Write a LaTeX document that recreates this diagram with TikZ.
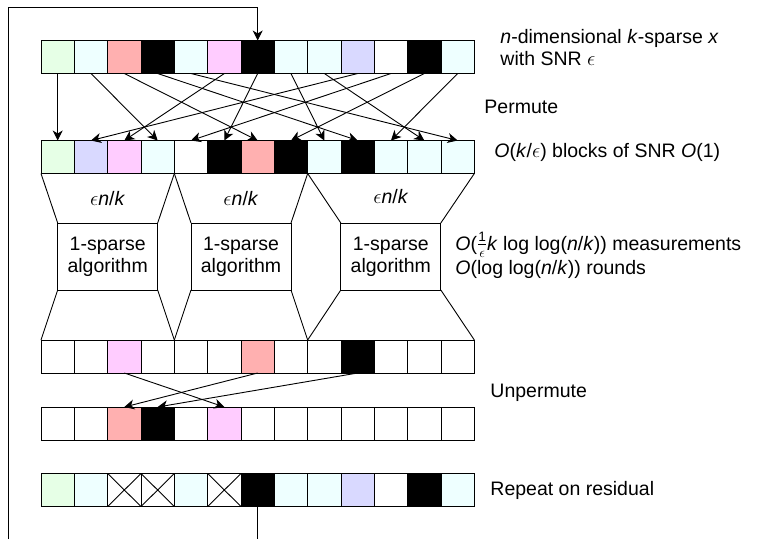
\documentclass[tikz,border=0pt]{standalone}
\usepackage{fontspec}
\usepackage{amsmath}
\setmainfont{Liberation Sans}
\usetikzlibrary{arrows.meta}
\definecolor{cg}{HTML}{E6FFE6}
\definecolor{cc}{HTML}{EEFFFF}
\definecolor{cs}{HTML}{FFB0B0}
\definecolor{cp}{HTML}{FFCCFF}
\definecolor{cl}{HTML}{D9D9FF}
\definecolor{cb}{HTML}{000000}
\definecolor{cw}{HTML}{FFFFFF}
\begin{document}
\begin{tikzpicture}[x=1pt,y=-1pt,line width=0.9pt,
  every node/.style={font=\fontsize{19.5}{22}\selectfont},
  cell/.style={draw,minimum width=33.333pt,minimum height=33pt,inner sep=0pt,outer sep=0pt},
  algbox/.style={draw,fill=white,minimum width=100pt,minimum height=67pt,inner sep=0pt,align=center,outer sep=0pt},
  arr/.style={-{Stealth[length=10pt,width=10pt,inset=3pt]}},
  lbl/.style={anchor=base west,inner sep=0pt,align=left}]
\useasboundingbox (0,0) rectangle (757,539);
% rows of cells
\foreach \c [count=\i from 0] in {cg,cc,cs,cb,cc,cp,cb,cc,cc,cl,cw,cb,cc}
  \node[cell,fill=\c] (a\i) at ({41+33.333*(\i+0.5)},57) {};
\foreach \c [count=\i from 0] in {cg,cl,cp,cc,cw,cb,cs,cb,cc,cb,cc,cc,cc}
  \node[cell,fill=\c] (b\i) at ({41+33.333*(\i+0.5)},157) {};
\foreach \c [count=\i from 0] in {cw,cw,cp,cw,cw,cw,cs,cw,cw,cb,cw,cw,cw}
  \node[cell,fill=\c] (c\i) at ({41+33.333*(\i+0.5)},356.5) {};
\foreach \c [count=\i from 0] in {cw,cw,cs,cb,cw,cp,cw,cw,cw,cw,cw,cw,cw}
  \node[cell,fill=\c] (d\i) at ({41+33.333*(\i+0.5)},423.5) {};
\foreach \c [count=\i from 0] in {cg,cc,cw,cw,cc,cw,cb,cc,cc,cl,cw,cb,cc}
  \node[cell,fill=\c] (e\i) at ({41+33.333*(\i+0.5)},490) {};
\foreach \i in {2,3,5}
  \draw (e\i.north west) -- (e\i.south east) (e\i.north east) -- (e\i.south west);
% permutation
\foreach \i in {0,...,12} {
  \pgfmathtruncatemacro\j{mod(3*\i,13)}
  \draw[arr] (a\i.south) -- (b\j.north);
}
% algorithm boxes
\node[algbox] (g1) at (107.67,256.5) {1-sparse\\algorithm};
\node[algbox] (g2) at (241,256.5) {1-sparse\\algorithm};
\node[algbox] (g3) at (390.83,256.5) {1-sparse\\algorithm};
\draw (b0.south west) -- (g1.north west) (b3.south east) -- (g1.north east)
      (g1.south west) -- (c0.north west) (g1.south east) -- (c3.north east);
\draw (b4.south west) -- (g2.north west) (b7.south east) -- (g2.north east)
      (g2.south west) -- (c4.north west) (g2.south east) -- (c7.north east);
\draw (b8.south west) -- (g3.north west) (b12.south east) -- (g3.north east)
      (g3.south west) -- (c8.north west) (g3.south east) -- (c12.north east);
\node[anchor=base,inner sep=0pt] (t1) at (107.67,205) {$\epsilon$\textit{n}/\textit{k}};
\node[anchor=base,inner sep=0pt] (t2) at (241,205) {$\epsilon$\textit{n}/\textit{k}};
\node[anchor=base,inner sep=0pt] (t3) at (390.83,203) {$\epsilon$\textit{n}/\textit{k}};
% unpermute
\draw[arr] (c2.south) -- (d5.north);
\draw[arr] (c6.south) -- (d2.north);
\draw[arr] (c9.south) -- (d3.north);
% loop
\coordinate (lb) at (8,539);
\coordinate (lt) at (8,7);
\draw[arr] (lb) -- (lt) -| (a6.north);
\draw (e6.south) -- (e6.south |- lb);
% labels
\node[lbl] (l1) at (500,65) {\textit{n}-dimensional \textit{k}-sparse \textit{x}\\with SNR $\epsilon$};
\node[lbl] (l2) at (484,113) {Permute};
\node[lbl] (l3) at (494,157) {\textit{O}(\textit{k}/$\epsilon$) blocks of SNR \textit{O}(1)};
\node[lbl] (l4) at (455,274) {\textit{O}($\frac{\text{1}}{\epsilon}$\textit{k} log log(\textit{n}/\textit{k})) measurements\\[2pt]\textit{O}(log log(\textit{n}/\textit{k})) rounds};
\node[lbl] (l5) at (490,397) {Unpermute};
\node[lbl] (l6) at (490,495) {Repeat on residual};
\end{tikzpicture}
\end{document}
